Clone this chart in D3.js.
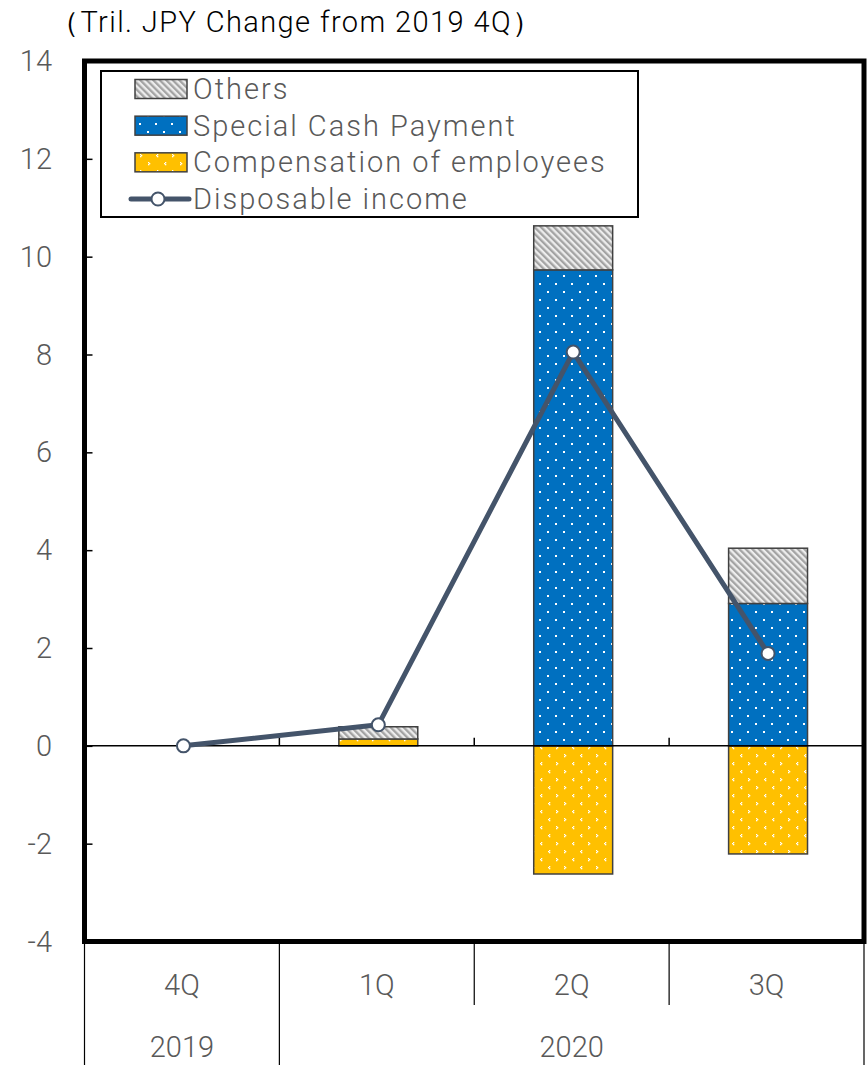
<!DOCTYPE html>
<html>
<head>
<meta charset="utf-8">
<script src="https://cdn.jsdelivr.net/npm/d3@7"></script>
<style>
  html, body { margin: 0; padding: 0; background: #fff; }
  svg { display: block; font-family: Roboto, "Noto Sans", sans-serif; }
</style>
</head>
<body>
<svg id="chart" width="868" height="1065"></svg>
<script>
// Quarterly change in household income components (trillion yen, vs 2019 4Q)
const quarters = ["4Q", "1Q", "2Q", "3Q"];
const yearGroups = ["2019", "2020"];
const yearOfQuarter = ["2019", "2020", "2020", "2020"];
const compensation = [0, 0.14, -2.62, -2.21];
const specialCash = [0, 0, 9.73, 2.91];
const others = [0, 0.25, 0.90, 1.13];
const disposable = [0, 0.43, 8.05, 1.89];
const yTicks = [-4, -2, 0, 2, 4, 6, 8, 10, 12, 14];
const seriesNames = {
  others: "Others",
  specialCash: "Special Cash Payment",
  compensation: "Compensation of employees",
  disposable: "Disposable income"
};

const svg = d3.select("#chart");
const frame = { left: 84.5, right: 864, top: 61, bottom: 941.5 };
const labelGray = "#595959";
const lineColor = "#44546a";
const barEdge = "#404040";

// ---- fill patterns ----
const defs = svg.append("defs");

// grey diagonal hatch
const hatch = 4.6;
const pOthers = defs.append("pattern").attr("id", "pat-others")
  .attr("patternUnits", "userSpaceOnUse").attr("width", hatch).attr("height", hatch)
  .attr("patternTransform", "rotate(-45)");
pOthers.append("rect").attr("width", hatch).attr("height", hatch).attr("fill", "#ededed");
pOthers.append("rect").attr("width", hatch / 2).attr("height", hatch).attr("fill", "#a3a3a3");

// blue with staggered white dots
const pCash = defs.append("pattern").attr("id", "pat-cash")
  .attr("patternUnits", "userSpaceOnUse").attr("width", 16).attr("height", 16);
pCash.append("rect").attr("width", 16).attr("height", 16).attr("fill", "#0070c0");
pCash.append("rect").attr("x", 3).attr("y", 3).attr("width", 2).attr("height", 2).attr("fill", "#fff");
pCash.append("rect").attr("x", 11).attr("y", 11).attr("width", 2).attr("height", 2).attr("fill", "#fff");

// gold with small white chevrons on a staggered grid
const pComp = defs.append("pattern").attr("id", "pat-comp")
  .attr("patternUnits", "userSpaceOnUse").attr("width", 32).attr("height", 16);
pComp.append("rect").attr("width", 32).attr("height", 16).attr("fill", "#ffc000");
const chevL = [[1, 0], [0, 1], [1, 2]];
const chevR = [[0, 0], [1, 1], [0, 2]];
const chevrons = [
  { shape: chevL, x: 4, y: 2 },
  { shape: chevR, x: 20, y: 2 },
  { shape: chevR, x: 12, y: 10 },
  { shape: chevL, x: 28, y: 10 }
];
chevrons.forEach(c => c.shape.forEach(([dx, dy]) =>
  pComp.append("rect").attr("x", c.x + dx).attr("y", c.y + dy)
    .attr("width", 1.3).attr("height", 1.3).attr("fill", "#fff")));

const fills = {
  others: "url(#pat-others)",
  specialCash: "url(#pat-cash)",
  compensation: "url(#pat-comp)"
};

// ---- scales ----
const y = d3.scaleLinear().domain([-4, 14]).range([frame.bottom, frame.top]);
const xCat = d3.scaleBand().domain(quarters).range([frame.left, frame.right])
  .paddingInner(0.595).paddingOuter(0.2975);
const step = xCat.step();
const catStart = q => frame.left + quarters.indexOf(q) * step;
const catCenter = q => catStart(q) + step / 2;

// ---- stacked bars ----
const rows = quarters.map((q, i) => ({
  quarter: q,
  compensation: compensation[i],
  specialCash: specialCash[i],
  others: others[i]
}));
const keys = ["compensation", "specialCash", "others"];
const stacked = d3.stack().keys(keys).offset(d3.stackOffsetDiverging)(rows);

const barLayer = svg.append("g");
stacked.forEach(layer => {
  barLayer.selectAll(null)
    .data(layer.filter(d => d[1] !== d[0]))
    .join("rect")
    .attr("x", d => xCat(d.data.quarter) + 1.5)
    .attr("width", xCat.bandwidth())
    .attr("y", d => y(Math.max(d[0], d[1])))
    .attr("height", d => Math.abs(y(d[0]) - y(d[1])))
    .attr("fill", fills[layer.key])
    .attr("stroke", barEdge)
    .attr("stroke-width", 1.5);
});

// ---- zero line with category ticks ----
svg.append("line")
  .attr("x1", frame.left).attr("x2", frame.right)
  .attr("y1", y(0)).attr("y2", y(0))
  .attr("stroke", "#000").attr("stroke-width", 1.5);
svg.append("g").selectAll("line")
  .data(quarters.slice(1))
  .join("line")
  .attr("x1", d => catStart(d)).attr("x2", d => catStart(d))
  .attr("y1", y(0) - 8).attr("y2", y(0))
  .attr("stroke", "#000").attr("stroke-width", 1.5);

// ---- disposable income line ----
const linePts = quarters.map((q, i) => [catCenter(q) + 1.5, y(disposable[i])]);
svg.append("path")
  .attr("d", d3.line()(linePts))
  .attr("fill", "none")
  .attr("stroke", lineColor)
  .attr("stroke-width", 5)
  .attr("stroke-linejoin", "round");
svg.append("g").selectAll("circle")
  .data(linePts)
  .join("circle")
  .attr("cx", d => d[0]).attr("cy", d => d[1]).attr("r", 6.5)
  .attr("fill", "#fff").attr("stroke", lineColor).attr("stroke-width", 2);

// ---- y axis ----
const yAxis = d3.axisRight(y).tickValues(yTicks).tickSize(8).tickFormat("");
const yg = svg.append("g").attr("transform", `translate(${frame.left},0)`).call(yAxis);
yg.select(".domain").remove();
yg.selectAll(".tick line").attr("stroke", "#000").attr("stroke-width", 1.5);

svg.append("g").selectAll("text")
  .data(yTicks)
  .join("text")
  .attr("x", 52).attr("y", d => y(d))
  .attr("dy", "0.35em")
  .attr("text-anchor", "end")
  .attr("fill", labelGray)
  .attr("font-size", 29)
  .attr("font-weight", 300)
  .text(d => d);

// ---- frame ----
svg.append("rect")
  .attr("x", frame.left).attr("y", frame.top)
  .attr("width", frame.right - frame.left).attr("height", frame.bottom - frame.top)
  .attr("fill", "none").attr("stroke", "#000").attr("stroke-width", 5);

// ---- category axis (quarter / year) ----
const catAxis = svg.append("g");
const boundaries = d3.range(quarters.length + 1).map(i => ({
  x: frame.left + i * step,
  full: i === 0 || i === quarters.length || yearOfQuarter[i] !== yearOfQuarter[i - 1]
}));
catAxis.selectAll("line")
  .data(boundaries)
  .join("line")
  .attr("x1", d => d.x).attr("x2", d => d.x)
  .attr("y1", frame.bottom)
  .attr("y2", d => d.full ? 1065 : 1005)
  .attr("stroke", "#000").attr("stroke-width", 1.2);

catAxis.selectAll("text.q")
  .data(quarters)
  .join("text")
  .attr("class", "q")
  .attr("x", d => catCenter(d)).attr("y", 985)
  .attr("dy", "0.35em")
  .attr("text-anchor", "middle")
  .attr("fill", labelGray).attr("font-size", 29).attr("font-weight", 300)
  .text(d => d);

catAxis.selectAll("text.yr")
  .data(yearGroups)
  .join("text")
  .attr("class", "yr")
  .attr("x", g => {
    const idx = quarters.map((q, i) => i).filter(i => yearOfQuarter[i] === g);
    return (catStart(quarters[idx[0]]) + catStart(quarters[idx[idx.length - 1]]) + step) / 2;
  })
  .attr("y", 1047)
  .attr("dy", "0.35em")
  .attr("text-anchor", "middle")
  .attr("fill", labelGray).attr("font-size", 29).attr("font-weight", 300)
  .text(d => d);

// ---- unit title ----
svg.append("text")
  .attr("x", 50).attr("y", 22)
  .attr("dy", "0.35em")
  .attr("fill", "#000")
  .attr("font-size", 29)
  .attr("font-weight", 300)
  .attr("letter-spacing", 1.4)
  .text("（Tril. JPY Change from 2019 4Q）");

// ---- legend ----
const legend = svg.append("g");
legend.append("rect")
  .attr("x", 101).attr("y", 71).attr("width", 537).attr("height", 146)
  .attr("fill", "#fff").attr("stroke", "#000").attr("stroke-width", 2);

const legendItems = ["others", "specialCash", "compensation", "disposable"];
const legendY = d3.scalePoint().domain(legendItems).range([89, 199]);
legendItems.forEach(key => {
  const cy = legendY(key);
  if (key === "disposable") {
    legend.append("line")
      .attr("x1", 131).attr("x2", 189).attr("y1", cy).attr("y2", cy)
      .attr("stroke", lineColor).attr("stroke-width", 5).attr("stroke-linecap", "round");
    legend.append("circle")
      .attr("cx", 158).attr("cy", cy).attr("r", 6.5)
      .attr("fill", "#fff").attr("stroke", lineColor).attr("stroke-width", 2);
  } else {
    legend.append("rect")
      .attr("x", 135).attr("y", cy - 9.5).attr("width", 52).attr("height", 19)
      .attr("fill", fills[key]).attr("stroke", barEdge).attr("stroke-width", 1.5);
  }
  legend.append("text")
    .attr("x", 193).attr("y", cy)
    .attr("dy", "0.35em")
    .attr("fill", labelGray).attr("font-size", 29).attr("font-weight", 300)
    .attr("letter-spacing", 2)
    .text(seriesNames[key]);
});
</script>
</body>
</html>
